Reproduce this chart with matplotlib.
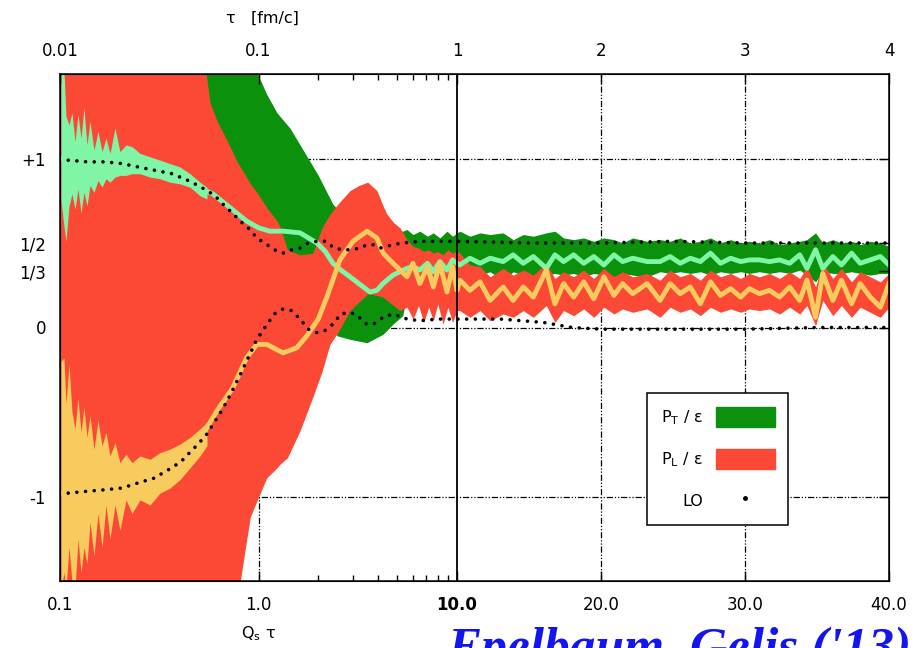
import numpy as np
import matplotlib
matplotlib.use("Agg")
import matplotlib.pyplot as plt
from matplotlib.patches import Patch
from matplotlib.lines import Line2D

# ---- data (x = Qs*tau) ----
q_right = [10.2, 10.9, 11.6, 12.3, 13.2, 13.9, 14.6, 15.3, 16.2, 16.8,
           17.4, 18.1, 18.8, 19.5, 20.2, 20.9, 21.5, 22.2, 23.2, 24.1,
           24.8, 25.5, 26.2, 26.9, 27.6, 28.3, 29.0, 29.7, 30.3, 31.0,
           31.7, 32.4, 33.1, 33.8, 34.3, 34.9, 35.4, 36.1, 36.7, 37.4,
           38.0, 38.7, 39.4, 40.0]

# P_T / eps band (green)
pt_band_q = [0.1, 0.95, 0.99, 1.1, 1.24, 1.44, 1.78, 2.0, 2.37, 2.5, 2.89, 3.52,
             4.24, 4.76, 5.33, 5.6, 6.0, 6.5, 7.1, 7.6, 8.2, 8.9, 9.5, 10.0]
pt_hi_left = [1.6, 1.6, 1.5, 1.38, 1.27, 1.18, 1.0, 0.9, 0.73, 0.70, 0.66, 0.62,
              0.60, 0.58, 0.57, 0.58, 0.55, 0.57, 0.54, 0.56, 0.53, 0.57, 0.54, 0.56]
pt_lo_left = [0.3, 0.3, 0.3, 0.3, 0.3, 0.3, 0.2, 0.05, -0.02, -0.05, -0.07, -0.09,
              -0.04, 0.02, 0.07, 0.2, 0.28, 0.3, 0.3, 0.3, 0.3, 0.3, 0.3, 0.31]
pt_hi_right = [0.57, 0.54, 0.56, 0.55, 0.56, 0.52, 0.55, 0.54, 0.56, 0.57,
               0.53, 0.52, 0.53, 0.51, 0.53, 0.52, 0.50, 0.53, 0.51, 0.52,
               0.51, 0.53, 0.50, 0.51, 0.53, 0.50, 0.52, 0.50, 0.51, 0.50,
               0.52, 0.49, 0.50, 0.51, 0.52, 0.56, 0.50, 0.52, 0.50, 0.51,
               0.49, 0.51, 0.50, 0.48]
pt_lo_right = [0.33, 0.30, 0.31, 0.33, 0.28, 0.33, 0.31, 0.30, 0.31, 0.32,
               0.31, 0.32, 0.30, 0.32, 0.31, 0.30, 0.32, 0.31, 0.30, 0.33,
               0.32, 0.33, 0.32, 0.33, 0.31, 0.33, 0.32, 0.33, 0.32, 0.33,
               0.32, 0.33, 0.32, 0.34, 0.31, 0.27, 0.33, 0.32, 0.32, 0.33,
               0.32, 0.31, 0.32, 0.32]

# P_L / eps band (red)
pl_band_q = [0.1, 0.53, 0.57, 0.62, 0.72, 0.78, 0.81, 0.86, 0.91, 0.94, 1.02,
             1.1, 1.24, 1.28, 1.4, 1.62, 1.88, 2.09, 2.29, 2.51, 2.89, 3.2,
             3.55, 3.95, 4.24, 4.44, 4.8, 5.16, 5.6, 6.0, 6.4, 6.8, 7.2, 7.6,
             8.0, 8.5, 9.0, 9.5, 10.0]
pl_hi_left = [1.6, 1.6, 1.33, 1.22, 1.07, 0.98, 0.95, 0.90, 0.85, 0.83, 0.77,
              0.71, 0.63, 0.60, 0.46, 0.43, 0.44, 0.59, 0.67, 0.73, 0.81, 0.84,
              0.86, 0.81, 0.72, 0.67, 0.62, 0.59, 0.52, 0.48, 0.47, 0.45, 0.46,
              0.44, 0.45, 0.43, 0.46, 0.44, 0.45]
pl_lo_left = [-1.6, -1.6, -1.6, -1.6, -1.6, -1.6, -1.5, -1.3, -1.12, -1.08, -0.98,
              -0.89, -0.83, -0.81, -0.77, -0.61, -0.41, -0.26, -0.10, -0.03, 0.10,
              0.15, 0.20, 0.19, 0.18, 0.16, 0.13, 0.10, 0.12, 0.05, 0.13, 0.03,
              0.12, 0.04, 0.14, 0.02, 0.12, 0.03, 0.10]
pl_hi_right = [0.44, 0.37, 0.36, 0.30, 0.35, 0.31, 0.34, 0.31, 0.38, 0.29,
               0.33, 0.30, 0.34, 0.29, 0.35, 0.30, 0.33, 0.30, 0.32, 0.28,
               0.34, 0.30, 0.32, 0.28, 0.34, 0.30, 0.32, 0.29, 0.32, 0.30,
               0.32, 0.29, 0.33, 0.29, 0.36, 0.24, 0.38, 0.29, 0.35, 0.27,
               0.33, 0.30, 0.27, 0.32]
pl_lo_right = [0.10, 0.06, 0.10, 0.04, 0.08, 0.06, 0.10, 0.06, 0.13, 0.03,
               0.10, 0.07, 0.11, 0.06, 0.12, 0.08, 0.11, 0.09, 0.11, 0.06,
               0.12, 0.09, 0.11, 0.07, 0.12, 0.09, 0.11, 0.09, 0.11, 0.10,
               0.11, 0.08, 0.12, 0.08, 0.13, 0.01, 0.16, 0.07, 0.13, 0.06,
               0.12, 0.09, 0.06, 0.12]

# mean curves
pt_mean_q = [0.1, 0.11, 0.15, 0.2, 0.25, 0.3, 0.37, 0.44, 0.54, 0.59, 0.7, 0.87,
             1.0, 1.14, 1.33, 1.62, 1.97, 2.17, 2.37, 2.6, 2.89, 3.2, 3.64, 3.95,
             4.24, 4.76, 5.6, 6.0, 6.5, 7.1, 7.6, 8.2, 8.9, 9.5, 10.0]
pt_mean_left = [1.0, 0.99, 0.98, 0.96, 0.95, 0.93, 0.91, 0.87, 0.81, 0.79, 0.72, 0.63,
                0.59, 0.57, 0.57, 0.56, 0.50, 0.45, 0.38, 0.34, 0.30, 0.26, 0.21, 0.22,
                0.26, 0.31, 0.35, 0.36, 0.34, 0.38, 0.33, 0.39, 0.34, 0.40, 0.38]
pt_mean_right = [0.37, 0.41, 0.38, 0.41, 0.39, 0.43, 0.38, 0.42, 0.35, 0.43,
                 0.39, 0.43, 0.38, 0.42, 0.37, 0.43, 0.39, 0.41, 0.39, 0.39,
                 0.42, 0.38, 0.41, 0.39, 0.44, 0.38, 0.41, 0.39, 0.40, 0.40,
                 0.39, 0.40, 0.38, 0.43, 0.35, 0.46, 0.35, 0.42, 0.37, 0.44,
                 0.38, 0.40, 0.42, 0.37]
pl_mean_q = [0.1, 0.16, 0.25, 0.3, 0.4, 0.49, 0.62, 0.74, 0.87, 0.98, 1.1, 1.33,
             1.56, 1.75, 2.0, 2.21, 2.57, 2.99, 3.52, 3.95, 4.24, 4.76, 5.6, 6.0,
             6.5, 7.1, 7.6, 8.2, 8.9, 9.5, 10.0]
pl_mean_left = [-0.98, -0.96, -0.92, -0.88, -0.80, -0.69, -0.49, -0.36, -0.18, -0.10,
                -0.10, -0.15, -0.12, -0.05, 0.05, 0.18, 0.40, 0.51, 0.57, 0.53, 0.44,
                0.38, 0.30, 0.38, 0.26, 0.36, 0.24, 0.38, 0.21, 0.36, 0.22]
pl_mean_right = [0.28, 0.22, 0.27, 0.16, 0.24, 0.16, 0.24, 0.18, 0.34, 0.14,
                 0.26, 0.18, 0.27, 0.17, 0.30, 0.19, 0.26, 0.20, 0.26, 0.16,
                 0.26, 0.20, 0.24, 0.14, 0.27, 0.19, 0.23, 0.18, 0.23, 0.20,
                 0.22, 0.18, 0.24, 0.16, 0.28, 0.06, 0.32, 0.16, 0.28, 0.14,
                 0.26, 0.18, 0.12, 0.26]

# early-time noise on the mean curves
noise_q = [0.1012, 0.1047, 0.1072, 0.111, 0.1149, 0.119, 0.1232, 0.1276, 0.132,
           0.1368, 0.1416, 0.1483, 0.1554, 0.1628, 0.1705, 0.1786, 0.1892, 0.2005,
           0.215, 0.2305, 0.2529, 0.2841, 0.319, 0.358, 0.402, 0.452, 0.507, 0.55]
pt_noise_hi = [1.52, 1.52, 1.25, 1.20, 1.27, 1.10, 1.26, 1.12, 1.30, 1.08,
               1.22, 1.05, 1.16, 1.04, 1.12, 1.03, 1.18, 1.04, 1.08, 1.07,
               1.03, 1.01, 0.99, 0.97, 0.95, 0.91, 0.86, 0.83]
pt_noise_lo = [0.75, 0.60, 0.51, 0.72, 0.79, 0.70, 0.82, 0.68, 0.80, 0.72,
               0.84, 0.80, 0.87, 0.83, 0.88, 0.86, 0.89, 0.90, 0.90, 0.91,
               0.91, 0.89, 0.88, 0.86, 0.85, 0.83, 0.78, 0.76]
pl_noise_hi = [-0.20, -0.18, -0.45, -0.22, -0.50, -0.60, -0.42, -0.62, -0.47, -0.65,
               -0.52, -0.72, -0.55, -0.70, -0.62, -0.76, -0.68, -0.80, -0.75, -0.80,
               -0.76, -0.78, -0.74, -0.72, -0.69, -0.65, -0.60, -0.56]
pl_noise_lo = [-1.55, -1.45, -1.55, -1.30, -1.50, -1.55, -1.25, -1.45, -1.30, -1.40,
               -1.15, -1.35, -1.10, -1.30, -1.05, -1.25, -1.05, -1.20, -1.02, -1.10,
               -1.02, -1.05, -0.98, -0.95, -0.90, -0.83, -0.76, -0.70]

# LO (dotted)
lo_up_q = [0.11, 0.138, 0.169, 0.205, 0.247, 0.301, 0.366, 0.442, 0.496, 0.55, 0.603,
           0.662, 0.734, 0.808, 0.886, 0.982, 1.105, 1.2, 1.33, 1.47, 1.62, 1.78, 1.97,
           2.2, 2.4, 2.66, 2.89, 3.24, 3.52, 3.77, 4.1, 4.76, 5.33, 6.5, 8.2, 10,
           15, 20, 25, 30, 35, 40]
lo_up = [0.99, 0.98, 0.98, 0.97, 0.95, 0.93, 0.91, 0.87, 0.84, 0.81, 0.78,
         0.73, 0.68, 0.63, 0.59, 0.53, 0.49, 0.46, 0.44, 0.46, 0.47, 0.50, 0.51,
         0.51, 0.47, 0.46, 0.46, 0.47, 0.49, 0.49, 0.47, 0.49, 0.50, 0.51, 0.51, 0.51,
         0.50, 0.50, 0.51, 0.50, 0.50, 0.50]
lo_dn_q = [0.11, 0.134, 0.169, 0.205, 0.247, 0.301, 0.33, 0.366, 0.41, 0.442, 0.496,
           0.55, 0.6, 0.662, 0.734, 0.808, 0.886, 0.982, 1.105, 1.2, 1.33, 1.47, 1.62,
           1.78, 1.97, 2.15, 2.37, 2.6, 2.89, 3.15, 3.5, 3.8, 4.24, 4.76, 5.6, 6.5,
           8.0, 10, 13, 16, 18, 20, 25, 30, 35, 40]
lo_dn = [-0.98, -0.97, -0.96, -0.95, -0.92, -0.89, -0.86, -0.83, -0.79, -0.75, -0.69,
         -0.63, -0.56, -0.48, -0.38, -0.28, -0.18, -0.07, 0.02, 0.08, 0.11, 0.10, 0.05,
         -0.01, -0.03, -0.02, 0.02, 0.08, 0.09, 0.07, 0.02, 0.02, 0.06, 0.08, 0.05, 0.04,
         0.05, 0.05, 0.05, 0.03, 0.0, -0.01, -0.01, -0.01, 0.0, 0.0]

bottom_ticks = [0.1, 1, 10, 20, 30, 40]
bottom_labels = ["0.1", "1.0", "10.0", "20.0", "30.0", "40.0"]
top_labels = ["0.01", "0.1", "1", "2", "3", "4"]
minor_ticks = [2, 3, 4, 5, 6, 7, 8, 9]
y_ticks = [1, 0.5, 1 / 3, 0, -1]
y_labels = ["+1", "1/2", "1/3", "0", "-1"]

GREEN = "#0c910c"
RED = "#fc4935"
LGREEN = "#80f5a6"
YELLOW = "#f7cb5e"

# log scale below 10, linear above
K = (432 / 397 * 2) / 30


def fwd(x):
    x = np.asarray(x, dtype=float)
    lg = np.log10(np.where(x > 0, x, 1e-10)) + 1
    return np.where(x <= 10, lg, 2 + (x - 10) * K)


def inv(u):
    u = np.asarray(u, dtype=float)
    return np.where(u <= 2, 10 ** (np.minimum(u, 2) - 1), 10 + (u - 2) / K)


plt.rcParams["font.family"] = ["DejaVu Sans"]
fig = plt.figure(figsize=(9.22, 6.48), dpi=100)
ax = fig.add_axes([60 / 922, 1 - 581 / 648, 829 / 922, 507 / 648])
ax.set_xscale("function", functions=(fwd, inv))
ax.set_xlim(0.1, 40)
ax.set_ylim(-1.5, 1.5)

# grid (dash-dot-dot), under the bands
grid_ls = (0, (5, 1.5, 1, 1.5, 1, 1.5))
for yv in [1, 0.5, 0, -1]:
    ax.axhline(yv, color="black", lw=0.9, ls=grid_ls, zorder=0.5)
for xv in [1, 20, 30]:
    ax.axvline(xv, color="black", lw=0.9, ls=grid_ls, zorder=0.5)

ax.fill_between(pt_band_q + q_right, pt_lo_left + pt_lo_right, pt_hi_left + pt_hi_right,
                color=GREEN, lw=0, zorder=1)
ax.fill_between(pl_band_q + q_right, pl_lo_left + pl_lo_right, pl_hi_left + pl_hi_right,
                color=RED, lw=0, zorder=2)
ax.fill_between(noise_q, pt_noise_lo, pt_noise_hi, color=LGREEN, lw=0, zorder=3)
ax.fill_between(noise_q, pl_noise_lo, pl_noise_hi, color=YELLOW, lw=0, zorder=3)
ax.plot(pt_mean_q + q_right, pt_mean_left + pt_mean_right, color=LGREEN, lw=3.5,
        solid_joinstyle="round", zorder=4)
ax.plot(pl_mean_q + q_right, pl_mean_left + pl_mean_right, color=YELLOW, lw=3.5,
        solid_joinstyle="round", zorder=4)
for xs, ys in [(lo_up_q, lo_up), (lo_dn_q, lo_dn)]:
    ax.plot(xs, ys, color="black", lw=2.6, ls=(0, (0.01, 2.4)),
            dash_capstyle="round", zorder=5)

ax.axvline(10, color="black", lw=1.3, zorder=6)

ax.set_xticks(bottom_ticks)
ax.set_xticklabels(bottom_labels)
ax.set_xticks(minor_ticks, minor=True)
ax.set_yticks(y_ticks)
ax.set_yticklabels(y_labels)
ax.tick_params(axis="x", which="major", direction="in", length=7, width=1,
               labelsize=12, pad=11)
ax.tick_params(axis="x", which="minor", direction="in", length=4, width=1)
ax.tick_params(axis="y", direction="in", length=7, width=1, right=True,
               labelsize=12, pad=10)
ax.get_xticklabels()[2].set_fontweight("bold")
for s in ax.spines.values():
    s.set_linewidth(1.1)
    s.set_zorder(7)

ax2 = ax.twiny()
ax2.set_xscale("function", functions=(fwd, inv))
ax2.set_xlim(0.1, 40)
ax2.set_xticks(bottom_ticks)
ax2.set_xticklabels(top_labels)
ax2.set_xticks(minor_ticks, minor=True)
ax2.tick_params(axis="x", which="major", direction="in", length=7, width=1,
                labelsize=12, pad=10)
ax2.tick_params(axis="x", which="minor", direction="in", length=4, width=1)

fig.text(262 / 922, 1 - 18 / 648, "τ   [fm/c]", ha="center", va="center", fontsize=11.5)
fig.text(258 / 922, 1 - 634 / 648, r"Q$_\mathrm{s}$ τ", ha="center", va="center", fontsize=11.5)

handles = [Patch(color=GREEN), Patch(color=RED),
           Line2D([], [], ls="none", marker="o", ms=2.5, color="black")]
labels = [r"P$_\mathrm{T}$ / ε", r"P$_\mathrm{L}$ / ε", "LO"]
leg = ax.legend(handles, labels, markerfirst=False, loc="upper left",
                bbox_to_anchor=(647 / 922, 1 - 393 / 648), bbox_transform=fig.transFigure,
                borderaxespad=0, fontsize=11.5, handlelength=3.7, handleheight=1.6,
                labelspacing=1.35, handletextpad=0.8, borderpad=0.85,
                fancybox=False, framealpha=1, edgecolor="black")
leg.get_frame().set_linewidth(1.1)
leg.set_zorder(10)

# citation, partly cut by the bottom edge as in the original slide
fig.text(447 / 922, 1 - 627 / 648, "Epelbaum, Gelis ('13)", ha="left", va="top",
         fontsize=37, color="#1414f0", fontweight="bold", fontstyle="italic",
         family=["Liberation Serif", "DejaVu Serif"])

plt.savefig("out.png", dpi=100)
